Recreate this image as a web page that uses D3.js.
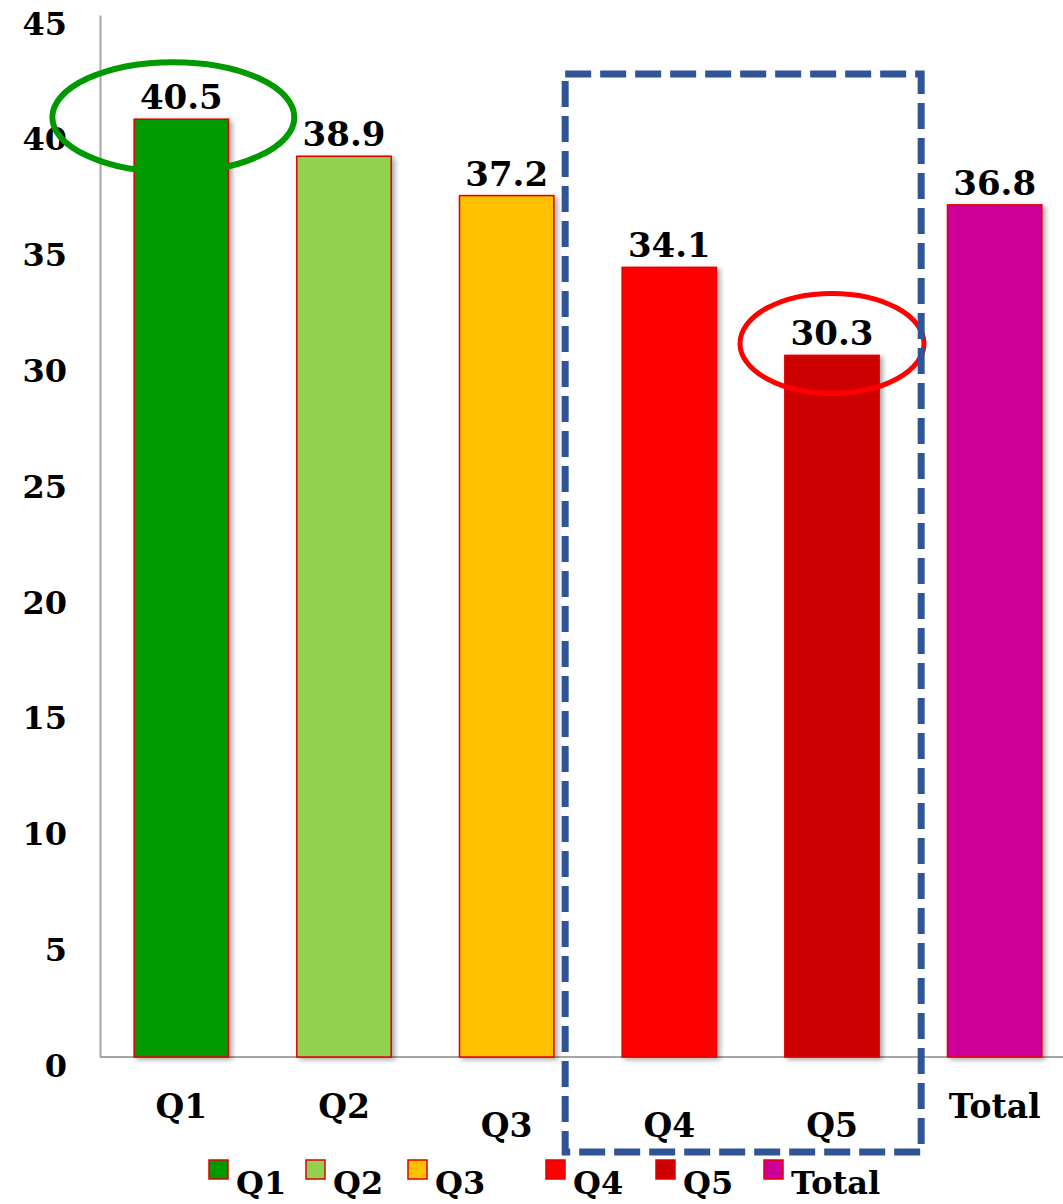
<!DOCTYPE html>
<html>
<head>
<meta charset="utf-8">
<script src="https://cdn.jsdelivr.net/npm/d3@7"></script>
<style>
  html, body { margin: 0; padding: 0; background: #fff; }
  svg { display: block; }
  text { font-family: "DejaVu Serif", Georgia, serif; font-weight: bold; fill: #000; }
</style>
</head>
<body>
<svg id="chart" width="1063" height="1204"></svg>
<script>
// Quintile values
const categories = ["Q1", "Q2", "Q3", "Q4", "Q5", "Total"];
const values = [40.5, 38.9, 37.2, 34.1, 30.3, 36.8];
const colors = ["#009900", "#92d050", "#ffc000", "#ff0000", "#cc0000", "#cc0099"];
const yTicks = [0, 5, 10, 15, 20, 25, 30, 35, 40, 45];
// category labels alternate between two rows
const labelRow = [0, 0, 1, 1, 1, 0];

const svg = d3.select("#chart");

const x = d3.scaleBand()
  .domain(categories)
  .range([100, 1076])
  .paddingInner(0.42)
  .paddingOuter(0.21);

const y = d3.scaleLinear()
  .domain([0, 45])
  .range([1057, 15]);

// soft shadow behind bars
const defs = svg.append("defs");
const f = defs.append("filter").attr("id", "shadow")
  .attr("x", "-10%").attr("y", "-5%").attr("width", "130%").attr("height", "115%");
f.append("feDropShadow").attr("dx", 3).attr("dy", 2).attr("stdDeviation", 2.5)
  .attr("flood-color", "#000").attr("flood-opacity", 0.35);

// y axis
const yAxis = d3.axisLeft(y).tickValues(yTicks).tickSize(0).tickPadding(33);
const gy = svg.append("g").attr("transform", "translate(100,0)").call(yAxis);
gy.select(".domain").attr("stroke", "#a6a6a6").attr("stroke-width", 2);
gy.selectAll("text")
  .style("font-size", "32px")
  .attr("dy", "0.6em");

// x axis baseline
svg.append("line")
  .attr("x1", 100).attr("x2", 1063)
  .attr("y1", y(0)).attr("y2", y(0))
  .attr("stroke", "#a6a6a6").attr("stroke-width", 2);

// bars
svg.append("g").selectAll("rect")
  .data(values)
  .join("rect")
  .attr("x", (d, i) => x(categories[i]))
  .attr("y", d => y(d))
  .attr("width", x.bandwidth())
  .attr("height", d => y(0) - y(d))
  .attr("fill", (d, i) => colors[i])
  .attr("stroke", "#e00000")
  .attr("stroke-width", 1.5)
  .attr("filter", "url(#shadow)");

// value labels
svg.append("g").selectAll("text")
  .data(values)
  .join("text")
  .attr("x", (d, i) => x(categories[i]) + x.bandwidth() / 2)
  .attr("y", d => y(d) - 10)
  .attr("text-anchor", "middle")
  .style("font-size", "34px")
  .text(d => d.toFixed(1));

// category labels
svg.append("g").selectAll("text")
  .data(categories)
  .join("text")
  .attr("x", d => x(d) + x.bandwidth() / 2)
  .attr("y", (d, i) => labelRow[i] ? 1137 : 1118)
  .attr("text-anchor", "middle")
  .style("font-size", "33px")
  .text(d => d);

// highlight: top quintile
const cx1 = x("Q1") + x.bandwidth() / 2;
svg.append("ellipse")
  .attr("cx", cx1 - 8).attr("cy", y(values[0]) - 2)
  .attr("rx", 121).attr("ry", 55)
  .attr("fill", "none").attr("stroke", "#009900").attr("stroke-width", 6);

// highlight: bottom quintile
const cx5 = x("Q5") + x.bandwidth() / 2;
svg.append("ellipse")
  .attr("cx", cx5).attr("cy", y(values[4]) - 12)
  .attr("rx", 92).attr("ry", 50)
  .attr("fill", "none").attr("stroke", "#ff0000").attr("stroke-width", 5);

// dashed frame around Q4 and Q5
const boxL = x("Q4") - 57;
const boxR = x("Q5") + x.bandwidth() + 42;
svg.append("rect")
  .attr("x", boxL).attr("y", 74)
  .attr("width", boxR - boxL).attr("height", 1152 - 74)
  .attr("fill", "none")
  .attr("stroke", "#2f5597")
  .attr("stroke-width", 7)
  .attr("stroke-dasharray", "26 9");

// legend
const legendX = [209, 306, 408, 546, 656, 764];
const lg = svg.append("g").selectAll("g")
  .data(categories)
  .join("g")
  .attr("transform", (d, i) => `translate(${legendX[i]},1160)`);
lg.append("rect")
  .attr("width", 19).attr("height", 19)
  .attr("fill", (d, i) => colors[i])
  .attr("stroke", "#e00000").attr("stroke-width", 1.5);
lg.append("text")
  .attr("x", 27).attr("y", 34)
  .style("font-size", "32px")
  .text(d => d);
</script>
</body>
</html>
